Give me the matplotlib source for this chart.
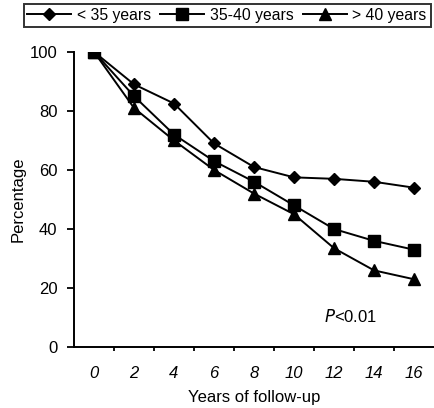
import matplotlib
matplotlib.use('Agg')
import matplotlib.pyplot as plt

plt.rcParams['font.family'] = ['Liberation Sans', 'DejaVu Sans']

# data
years = [0, 2, 4, 6, 8, 10, 12, 14, 16]
under35 = [100, 89, 82.5, 69, 61, 57.5, 57, 56, 54]
from35to40 = [100, 85, 72, 63, 56, 48, 40, 36, 33]
over40 = [100, 81, 70, 60, 52, 45, 33.5, 26, 23]
labels = ['< 35 years', '35-40 years', '> 40 years']

fs = 12

fig = plt.figure(figsize=(4.35, 4.08), dpi=100)
ax = fig.add_axes([0.170, 0.149, 0.828, 0.724])

ax.plot(years, under35, '-', color='black', lw=1.4, marker='D', ms=6.5, label=labels[0])
ax.plot(years, from35to40, '-', color='black', lw=1.4, marker='s', ms=8, label=labels[1])
ax.plot(years, over40, '-', color='black', lw=1.4, marker='^', ms=8.5, label=labels[2])

ax.set_xlim(-1, 17)
ax.set_ylim(0, 100)
ax.set_yticks([0, 20, 40, 60, 80, 100])
# tick marks sit between categories, labels on the categories
ax.set_xticks([1, 3, 5, 7, 9, 11, 13, 15])
ax.set_xticklabels([])
ax.tick_params(axis='x', length=3, width=1.3)
ax.tick_params(axis='y', length=5, width=1.3, labelsize=fs, pad=7)
for x in years:
    ax.text(x, -6.5, str(x), ha='center', va='top', fontsize=fs, style='italic')

for side in ['top', 'right']:
    ax.spines[side].set_visible(False)
for side in ['left', 'bottom']:
    ax.spines[side].set_linewidth(1.4)

ax.set_ylabel('Percentage', fontsize=fs, labelpad=3)
fig.text(0.585, 0.025, 'Years of follow-up', ha='center', va='center', fontsize=fs)

ax.text(11.5, 10.5, r'$P$<0.01', fontsize=fs, ha='left', va='center')

leg = fig.legend(loc='upper center', bbox_to_anchor=(0.522, 1.0), ncol=3,
                 frameon=True, fancybox=False, fontsize=11.3, handlelength=2.8,
                 columnspacing=0.6, handletextpad=0.35, borderpad=0.25,
                 borderaxespad=0.25)
leg.get_frame().set_edgecolor('black')
leg.get_frame().set_linewidth(1.4)

fig.savefig('out.png', dpi=100)
